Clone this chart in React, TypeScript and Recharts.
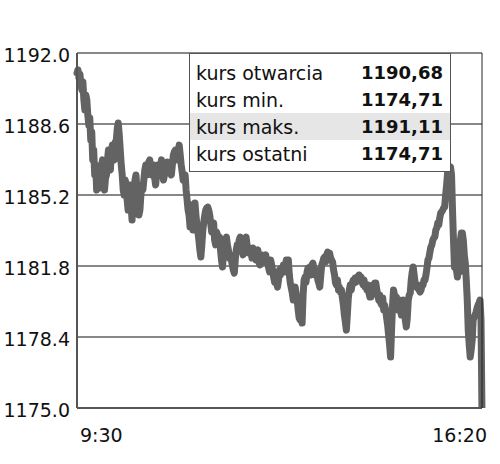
import { LineChart, Line, XAxis, YAxis, CartesianGrid } from 'recharts';

// WIG20-style intraday quote, one value per minute from 9:30
const values = [
  1191.04, 1191.19, 1190.80, 1190.99, 1190.45, 1190.23, 1190.61, 1189.75, 1189.27, 1189.99,
  1189.75, 1189.03, 1188.55, 1188.89, 1187.83, 1188.22, 1186.88, 1187.35, 1186.16, 1186.64,
  1185.44, 1185.92, 1186.40, 1185.53, 1185.68, 1186.64, 1186.88, 1185.82, 1185.44, 1186.01,
  1186.16, 1186.88, 1187.35, 1186.49, 1186.40, 1187.35, 1187.59, 1186.97, 1186.88, 1187.74,
  1187.83, 1188.41, 1188.65, 1188.07, 1187.35, 1186.64, 1186.16, 1185.44, 1185.20, 1185.92,
  1185.68, 1184.96, 1184.48, 1185.20, 1185.68, 1184.72, 1184.00, 1184.96, 1185.20, 1185.92,
  1186.16, 1185.44, 1184.96, 1184.24, 1184.48, 1185.20, 1185.68, 1185.44, 1185.92, 1186.40,
  1186.64, 1186.16, 1186.40, 1186.78, 1186.88, 1186.49, 1186.16, 1186.40, 1186.64, 1186.01,
  1185.68, 1186.16, 1186.64, 1186.40, 1186.30, 1186.64, 1186.88, 1186.30, 1185.92, 1186.16,
  1186.40, 1186.64, 1186.78, 1186.49, 1186.64, 1186.40, 1186.16, 1186.64, 1187.11, 1187.26,
  1187.35, 1186.97, 1186.88, 1187.35, 1187.59, 1187.11, 1186.64, 1186.30, 1185.92, 1186.01,
  1186.16, 1185.44, 1184.96, 1184.48, 1184.24, 1183.67, 1184.72, 1184.39, 1183.52, 1184.00,
  1184.82, 1184.24, 1183.76, 1183.43, 1183.04, 1182.57, 1182.23, 1182.81, 1183.52, 1183.91,
  1184.24, 1184.48, 1184.58, 1184.62, 1184.48, 1184.24, 1183.86, 1183.43, 1183.62, 1183.86,
  1183.04, 1182.81, 1183.43, 1183.28, 1183.04, 1183.19, 1182.57, 1182.09, 1181.75, 1182.33,
  1182.81, 1183.04, 1183.19, 1182.81, 1182.57, 1182.18, 1182.33, 1182.09, 1181.85, 1181.61,
  1181.46, 1182.09, 1182.57, 1182.81, 1182.71, 1183.04, 1183.19, 1182.81, 1182.57, 1182.33,
  1182.57, 1183.04, 1183.19, 1182.81, 1182.57, 1182.42, 1182.57, 1182.42, 1182.18, 1182.66,
  1182.57, 1182.33, 1182.09, 1182.47, 1182.57, 1181.99, 1181.85, 1182.09, 1182.33, 1182.18,
  1181.99, 1182.23, 1182.33, 1181.99, 1182.09, 1181.70, 1181.51, 1182.09, 1181.85, 1181.61,
  1181.27, 1181.03, 1181.27, 1180.98, 1180.79, 1181.13, 1181.61, 1181.37, 1181.70, 1181.61,
  1181.85, 1181.51, 1181.85, 1182.09, 1181.61, 1182.09, 1181.37, 1180.98, 1180.75, 1180.51,
  1180.17, 1180.65, 1180.79, 1180.41, 1180.17, 1179.69, 1179.31, 1179.21, 1180.17, 1179.07,
  1180.41, 1181.13, 1181.27, 1181.03, 1181.51, 1181.70, 1181.61, 1181.75, 1181.37, 1181.85,
  1181.94, 1181.70, 1181.37, 1181.61, 1181.51, 1181.13, 1180.98, 1180.79, 1181.37, 1181.85,
  1181.99, 1182.18, 1182.23, 1181.99, 1182.33, 1182.47, 1182.33, 1182.42, 1182.18, 1182.09,
  1181.99, 1181.61, 1181.37, 1180.98, 1180.89, 1181.13, 1180.65, 1180.79, 1180.55, 1180.65,
  1180.27, 1179.93, 1179.45, 1179.12, 1178.73, 1179.45, 1180.27, 1180.65, 1180.89, 1180.65,
  1180.98, 1181.13, 1180.98, 1181.22, 1181.03, 1181.27, 1181.13, 1181.37, 1181.22, 1181.27,
  1181.03, 1180.89, 1181.13, 1180.79, 1180.79, 1180.65, 1180.89, 1180.51, 1180.31, 1180.31,
  1180.65, 1180.89, 1180.75, 1180.98, 1180.98, 1180.65, 1180.41, 1180.17, 1180.41, 1180.03,
  1179.93, 1180.27, 1179.69, 1179.93, 1179.69, 1179.31, 1178.97, 1178.49, 1178.02, 1177.44,
  1178.73, 1179.93, 1180.65, 1180.41, 1180.17, 1180.31, 1179.93, 1179.69, 1180.17, 1179.69,
  1179.45, 1180.03, 1180.17, 1179.69, 1179.21, 1178.88, 1179.31, 1180.17, 1180.41, 1180.51,
  1181.13, 1181.51, 1181.75, 1181.37, 1180.98, 1180.89, 1180.75, 1180.89, 1180.65, 1180.55,
  1180.65, 1180.89, 1180.89, 1181.13, 1181.13, 1181.37, 1181.70, 1182.09, 1182.18, 1182.47,
  1182.71, 1182.81, 1183.04, 1183.14, 1183.19, 1183.52, 1183.62, 1183.86, 1183.76, 1184.10,
  1184.34, 1184.39, 1184.48, 1184.58, 1184.62, 1185.20, 1185.68, 1186.25, 1186.40, 1186.49,
  1186.54, 1186.16, 1184.48, 1183.04, 1181.75, 1182.33, 1181.61, 1181.27, 1182.57, 1181.51,
  1183.04, 1183.38, 1183.38, 1183.04, 1182.33, 1181.94, 1181.13, 1180.17, 1178.73, 1178.02,
  1177.44, 1177.78, 1178.25, 1179.21, 1179.36, 1179.45, 1179.60, 1179.79, 1179.93, 1180.03,
  1180.17, 1179.21, 1174.71,
];

const yTicks = [1175.0, 1178.4, 1181.8, 1185.2, 1188.6, 1192.0];
const timeLabels = ['9:30', '16:20'];

const legendLabels = ['kurs otwarcia', 'kurs min.', 'kurs maks.', 'kurs ostatni'];
const legendValues = ['1190,68', '1174,71', '1191,11', '1174,71'];

const data = values.map((v, i) => ({ t: i, v }));
const lastT = values.length - 1;

const FONT = "'DejaVu Sans', sans-serif";

function TimeTick(props: any) {
  const { x, y, payload } = props;
  const first = payload.value === 0;
  return (
    <text x={first ? x + 3 : x + 5} y={y} dy={26} textAnchor={first ? 'start' : 'end'}
      fontSize={19} fontFamily={FONT} fill="#111">
      {first ? timeLabels[0] : timeLabels[1]}
    </text>
  );
}

export default function App() {
  return (
    <div style={{ position: 'absolute', left: 0, top: 0, width: 500, height: 464, background: '#fff' }}>
      <LineChart width={500} height={464} data={data} margin={{ top: 53, right: 9, left: 0, bottom: 0 }}>
        <CartesianGrid vertical={false} stroke="#111" strokeWidth={1} />
        <XAxis dataKey="t" type="number" domain={[0, lastT]} ticks={[0, lastT]} height={56}
          axisLine={{ stroke: '#555', strokeWidth: 2 }} tickLine={false} tick={<TimeTick />} />
        <YAxis domain={[1175, 1192]} ticks={yTicks} allowDataOverflow width={77}
          tickFormatter={(v: number) => v.toFixed(1)} tickLine={false} tickSize={0} tickMargin={7}
          axisLine={{ stroke: '#555', strokeWidth: 2 }}
          tick={{ fontSize: 19, fontFamily: FONT, fill: '#111', dy: 2 }} />
        <YAxis yAxisId="r" orientation="right" width={9} domain={[1175, 1192]} tick={false}
          tickLine={false} axisLine={{ stroke: '#222', strokeWidth: 1 }} />
        <Line dataKey="v" stroke="#636363" strokeWidth={7} dot={false} isAnimationActive={false}
          strokeLinejoin="round" strokeLinecap="round" />
      </LineChart>
      <div style={{
        position: 'absolute', left: 189, top: 53, width: 260, height: 112,
        border: '1px solid #555', background: '#fff', paddingTop: 5, boxSizing: 'content-box',
        fontFamily: FONT, color: '#111',
      }}>
        {legendLabels.map((label, i) => (
          <div key={label} style={{
            display: 'flex', justifyContent: 'space-between', alignItems: 'center',
            height: 27, padding: '0 7px 0 6px', background: i === 2 ? '#e6e6e6' : 'transparent',
          }}>
            <span style={{ fontSize: 19 }}>{label}</span>
            <span style={{ fontSize: 18, fontWeight: 'bold' }}>{legendValues[i]}</span>
          </div>
        ))}
      </div>
    </div>
  );
}
